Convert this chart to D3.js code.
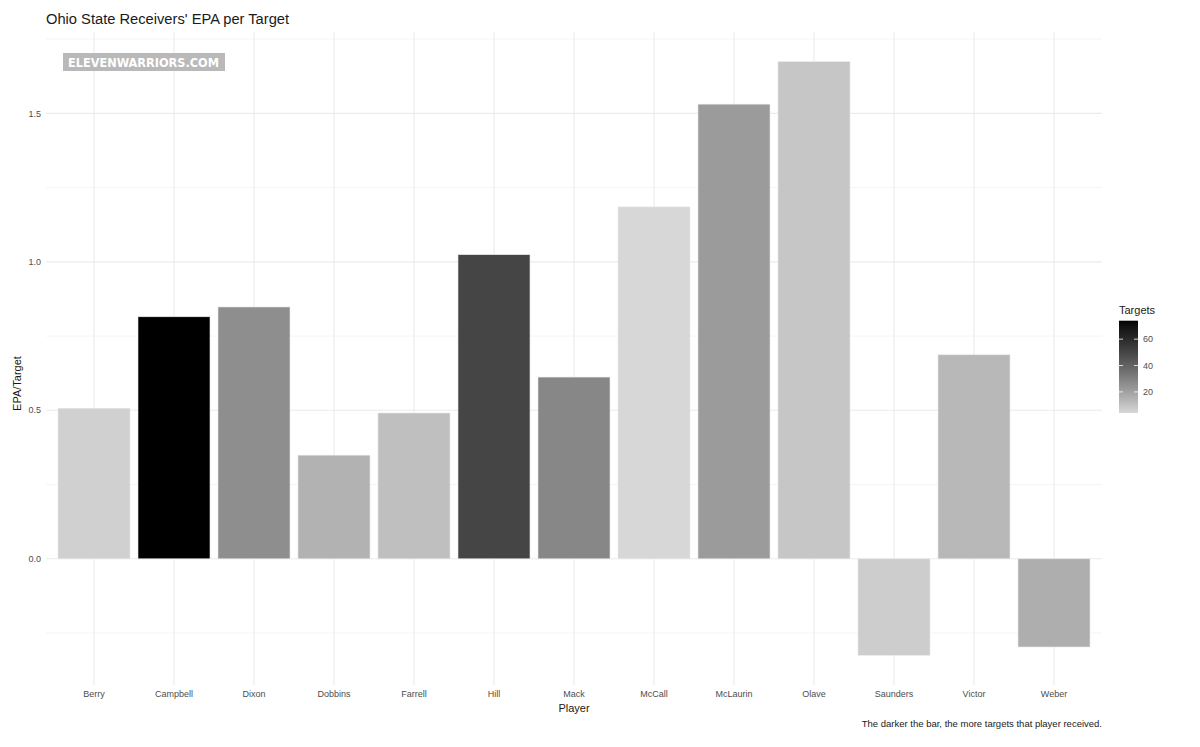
<!DOCTYPE html>
<html>
<head>
<meta charset="utf-8">
<script src="https://cdn.jsdelivr.net/npm/d3@7"></script>
<style>
  body { margin: 0; background: #fff; }
  svg { display: block; font-family: "Liberation Sans", Arial, Helvetica, sans-serif; }
</style>
</head>
<body>
<svg id="chart" width="1200" height="747"></svg>
<script>
const players = ["Berry","Campbell","Dixon","Dobbins","Farrell","Hill","Mack","McCall","McLaurin","Olave","Saunders","Victor","Weber"];
const epaPerTarget = [0.507,0.815,0.848,0.349,0.491,1.024,0.612,1.185,1.531,1.674,-0.325,0.687,-0.297];
const targets = [6,74,26,15,11,50,28,4,22,9,7,13,16];
const yTicks = [0.0,0.5,1.0,1.5];
const yMinor = [-0.25,0.25,0.75,1.25,1.75];
const legendTicks = [20,40,60];

const svg = d3.select("#chart");
const panel = {left: 46, right: 1102, top: 32, bottom: 685};

const dMin = d3.min(epaPerTarget.concat([0])), dMax = d3.max(epaPerTarget);
const pad = (dMax - dMin) * 0.05;
const y = d3.scaleLinear().domain([dMin - pad, dMax + pad]).range([panel.bottom, panel.top]);

const n = players.length;
const xc = d3.scaleLinear().domain([0.4, n + 0.6]).range([panel.left, panel.right]);
const band = xc(2) - xc(1);
const barW = band * 0.9;

const tMin = d3.min(targets), tMax = d3.max(targets);
const color = d3.scaleLinear().domain([tMin, tMax]).range(["#d7d7d7", "#000000"]).interpolate(d3.interpolateLab);

// grid
const g = svg.append("g");
g.selectAll("line.minor").data(yMinor).join("line")
  .attr("x1", panel.left).attr("x2", panel.right)
  .attr("y1", d => y(d)).attr("y2", d => y(d))
  .attr("stroke", "#f2f2f2").attr("stroke-width", 0.8);
g.selectAll("line.major").data(yTicks).join("line")
  .attr("x1", panel.left).attr("x2", panel.right)
  .attr("y1", d => y(d)).attr("y2", d => y(d))
  .attr("stroke", "#ebebeb").attr("stroke-width", 1.1);
g.selectAll("line.vx").data(players).join("line")
  .attr("x1", (d, i) => xc(i + 1)).attr("x2", (d, i) => xc(i + 1))
  .attr("y1", panel.top).attr("y2", panel.bottom)
  .attr("stroke", "#ebebeb").attr("stroke-width", 1.1);

// bars
svg.append("g").selectAll("rect").data(players).join("rect")
  .attr("x", (d, i) => xc(i + 1) - barW / 2)
  .attr("width", barW)
  .attr("y", (d, i) => y(Math.max(0, epaPerTarget[i])))
  .attr("height", (d, i) => Math.abs(y(epaPerTarget[i]) - y(0)))
  .attr("fill", (d, i) => color(targets[i]))
  .attr("stroke", "#e8e8e8").attr("stroke-width", 0.6);

// y tick labels
svg.append("g").selectAll("text").data(yTicks).join("text")
  .attr("x", 41).attr("y", d => y(d)).attr("dy", "0.35em")
  .attr("text-anchor", "end").attr("font-size", 9).attr("fill", "#4d4d4d")
  .text(d => d3.format(".1f")(d));

// x tick labels
svg.append("g").selectAll("text").data(players).join("text")
  .attr("x", (d, i) => xc(i + 1)).attr("y", 697)
  .attr("text-anchor", "middle").attr("font-size", 9).attr("fill", "#4d4d4d")
  .text(d => d);

// axis titles
svg.append("text").attr("x", (panel.left + panel.right) / 2).attr("y", 712)
  .attr("text-anchor", "middle").attr("font-size", 11).attr("fill", "#1a1a1a").text("Player");
svg.append("text").attr("transform", `translate(21,${(panel.top + panel.bottom) / 2 + 25}) rotate(-90)`)
  .attr("text-anchor", "middle").attr("font-size", 11).attr("fill", "#1a1a1a").text("EPA/Target");

// title
svg.append("text").attr("x", 46).attr("y", 24).attr("font-size", 14.7).attr("fill", "#1a1a1a")
  .text("Ohio State Receivers' EPA per Target");

// caption
svg.append("text").attr("x", panel.right).attr("y", 727).attr("text-anchor", "end")
  .attr("font-size", 9.5).attr("fill", "#1a1a1a")
  .text("The darker the bar, the more targets that player received.");

// watermark
const wm = svg.append("g");
wm.append("rect").attr("x", 63).attr("y", 53).attr("width", 162).attr("height", 18).attr("fill", "#b9b9b9");
wm.append("text").attr("x", 68).attr("y", 67)
  .attr("font-family", "'DejaVu Sans Condensed', 'DejaVu Sans', sans-serif")
  .attr("font-weight", "bold").attr("font-size", 12)
  .attr("textLength", 151).attr("lengthAdjust", "spacingAndGlyphs")
  .attr("fill", "#ffffff").text("ELEVENWARRIORS.COM");

// legend
const lg = {x: 1119, w: 19, top: 320.7, bottom: 413};
const ly = d3.scaleLinear().domain([tMin, tMax]).range([lg.bottom, lg.top]);
const defs = svg.append("defs");
const grad = defs.append("linearGradient").attr("id", "tgrad")
  .attr("x1", 0).attr("y1", 1).attr("x2", 0).attr("y2", 0);
d3.range(0, 1.0001, 0.05).forEach(f => {
  grad.append("stop").attr("offset", f).attr("stop-color", color(tMin + f * (tMax - tMin)));
});
svg.append("text").attr("x", lg.x).attr("y", 314).attr("font-size", 11).attr("fill", "#1a1a1a").text("Targets");
svg.append("rect").attr("x", lg.x).attr("y", lg.top).attr("width", lg.w).attr("height", lg.bottom - lg.top)
  .attr("fill", "url(#tgrad)");
const lt = svg.append("g");
lt.selectAll("line.l").data(legendTicks).join("line")
  .attr("x1", lg.x).attr("x2", lg.x + 4).attr("y1", d => ly(d)).attr("y2", d => ly(d))
  .attr("stroke", "#fff").attr("stroke-width", 0.8);
lt.selectAll("line.r").data(legendTicks).join("line")
  .attr("x1", lg.x + lg.w - 4).attr("x2", lg.x + lg.w).attr("y1", d => ly(d)).attr("y2", d => ly(d))
  .attr("stroke", "#fff").attr("stroke-width", 0.8);
lt.selectAll("text").data(legendTicks).join("text")
  .attr("x", lg.x + lg.w + 5).attr("y", d => ly(d)).attr("dy", "0.35em")
  .attr("font-size", 9).attr("fill", "#4d4d4d").text(d => d);
</script>
</body>
</html>
